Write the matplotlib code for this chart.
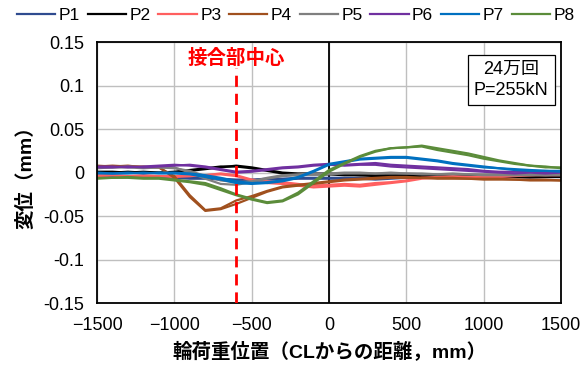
import matplotlib
matplotlib.use("Agg")
import matplotlib.pyplot as plt

plt.rcParams['font.family'] = ['Liberation Sans', 'Noto Sans CJK JP', 'DejaVu Sans']

# wheel load position (mm from CL), every 100 mm
pos = list(range(-1500, 1501, 100))

# displacement (mm), two passes per gauge
p1_a = [-0.005, -0.005, -0.004, -0.005, -0.005, -0.005, -0.006, -0.006, -0.007, -0.008, -0.008,
        -0.007, -0.007, -0.006, -0.006, -0.006, -0.006, -0.006, -0.007, -0.006, -0.005,
        -0.005, -0.005, -0.004, -0.004, -0.004, -0.004, -0.005, -0.005, -0.005, -0.005]
p1_b = [-0.006, -0.005, -0.005, -0.006, -0.005, -0.006, -0.007, -0.007, -0.008, -0.009, -0.009,
        -0.008, -0.008, -0.007, -0.007, -0.007, -0.007, -0.007, -0.008, -0.007, -0.006,
        -0.006, -0.005, -0.005, -0.005, -0.004, -0.005, -0.005, -0.006, -0.005, -0.005]
p2_a = [0.001, 0.001, 0.000, 0.001, 0.000, 0.000, 0.002, 0.004, 0.006, 0.008, 0.006,
        0.003, 0.000, -0.001, -0.001, -0.001, -0.002, -0.003, -0.003, -0.003, -0.003,
        -0.003, -0.004, -0.004, -0.004, -0.004, -0.004, -0.004, -0.005, -0.004, -0.004]
p2_b = [0.000, 0.000, 0.001, 0.000, 0.000, 0.001, 0.003, 0.005, 0.007, 0.007, 0.005,
        0.002, -0.001, -0.002, -0.002, -0.002, -0.003, -0.003, -0.004, -0.004, -0.004,
        -0.004, -0.004, -0.005, -0.005, -0.005, -0.004, -0.005, -0.005, -0.005, -0.005]
p3_a = [-0.003, -0.003, -0.004, -0.003, -0.004, -0.004, -0.004, -0.003, -0.001, -0.003, -0.008,
        -0.010, -0.011, -0.013, -0.015, -0.014, -0.013, -0.014, -0.012, -0.011, -0.009,
        -0.006, -0.005, -0.004, -0.005, -0.005, -0.004, -0.003, -0.003, -0.002, -0.002]
p3_b = [-0.004, -0.003, -0.004, -0.004, -0.004, -0.005, -0.004, -0.003, -0.002, -0.004, -0.009,
        -0.012, -0.013, -0.015, -0.017, -0.016, -0.015, -0.016, -0.014, -0.012, -0.010,
        -0.007, -0.006, -0.005, -0.005, -0.006, -0.005, -0.004, -0.003, -0.003, -0.003]
p4_a = [0.007, 0.008, 0.007, 0.007, 0.006, -0.006, -0.028, -0.044, -0.042, -0.036, -0.029,
        -0.022, -0.017, -0.015, -0.013, -0.011, -0.009, -0.008, -0.007, -0.006, -0.006,
        -0.006, -0.007, -0.007, -0.007, -0.008, -0.008, -0.008, -0.009, -0.009, -0.009]
p4_b = [0.008, 0.007, 0.008, 0.006, 0.006, -0.004, -0.026, -0.043, -0.041, -0.032, -0.027,
        -0.021, -0.016, -0.014, -0.012, -0.010, -0.008, -0.007, -0.006, -0.005, -0.005,
        -0.006, -0.006, -0.006, -0.007, -0.007, -0.007, -0.008, -0.008, -0.008, -0.009]
p5_a = [0.006, 0.006, 0.007, 0.006, 0.006, 0.006, 0.000, -0.007, -0.013, -0.014, -0.011,
        -0.007, -0.004, -0.003, -0.002, -0.002, -0.001, -0.001, -0.001, -0.001, -0.001,
        -0.002, -0.002, -0.002, -0.002, -0.003, -0.003, -0.003, -0.003, -0.003, -0.003]
p5_b = [0.005, 0.006, 0.006, 0.005, 0.006, 0.005, 0.002, -0.004, -0.009, -0.011, -0.010,
        -0.006, -0.003, -0.002, -0.001, -0.001, 0.000, 0.000, -0.001, 0.000, -0.001,
        -0.001, -0.002, -0.001, -0.002, -0.002, -0.002, -0.003, -0.002, -0.003, -0.002]
p6_a = [0.006, 0.006, 0.007, 0.006, 0.007, 0.008, 0.009, 0.007, 0.004, 0.001, 0.002,
        0.004, 0.006, 0.007, 0.009, 0.010, 0.009, 0.010, 0.011, 0.009, 0.008,
        0.007, 0.006, 0.005, 0.004, 0.002, 0.001, 0.001, 0.001, 0.000, 0.001]
p6_b = [0.007, 0.007, 0.006, 0.007, 0.008, 0.009, 0.008, 0.006, 0.003, 0.000, 0.001,
        0.003, 0.005, 0.006, 0.008, 0.009, 0.008, 0.009, 0.009, 0.007, 0.006,
        0.005, 0.004, 0.003, 0.002, 0.001, 0.000, -0.001, 0.000, -0.001, 0.000]
p7_a = [-0.001, -0.001, 0.000, -0.001, 0.000, 0.000, -0.001, -0.003, -0.006, -0.010, -0.012,
        -0.011, -0.009, -0.005, 0.002, 0.010, 0.013, 0.016, 0.017, 0.018, 0.018,
        0.016, 0.014, 0.011, 0.009, 0.007, 0.005, 0.004, 0.003, 0.002, 0.001]
p7_b = [0.000, -0.001, -0.001, 0.000, -0.001, -0.001, -0.002, -0.005, -0.008, -0.012, -0.013,
        -0.012, -0.010, -0.006, 0.001, 0.009, 0.012, 0.015, 0.016, 0.017, 0.017,
        0.015, 0.013, 0.010, 0.008, 0.006, 0.005, 0.003, 0.002, 0.002, 0.002]
p8_a = [-0.006, -0.006, -0.005, -0.006, -0.006, -0.008, -0.010, -0.012, -0.018, -0.025, -0.030,
        -0.034, -0.032, -0.023, -0.010, 0.003, 0.011, 0.019, 0.025, 0.028, 0.029,
        0.030, 0.026, 0.023, 0.020, 0.016, 0.013, 0.010, 0.008, 0.006, 0.006]
p8_b = [-0.007, -0.006, -0.006, -0.007, -0.007, -0.009, -0.011, -0.014, -0.020, -0.026, -0.031,
        -0.035, -0.033, -0.025, -0.012, 0.001, 0.010, 0.018, 0.024, 0.028, 0.029,
        0.031, 0.028, 0.025, 0.022, 0.018, 0.014, 0.011, 0.008, 0.007, 0.005]

names = ['P1', 'P2', 'P3', 'P4', 'P5', 'P6', 'P7', 'P8']
colors = ['#2F4B8F', '#000000', '#FF5F5F', '#A0501E', '#7F7F7F', '#7030A0', '#0070C0', '#5B8C3A']
series = [(p1_a, p1_b), (p2_a, p2_b), (p3_a, p3_b), (p4_a, p4_b),
          (p5_a, p5_b), (p6_a, p6_b), (p7_a, p7_b), (p8_a, p8_b)]

joint_x = -600

fig = plt.figure(figsize=(5.88, 3.72), dpi=100)
ax = fig.add_axes([0.165, 0.185, 0.789, 0.702])

for name, c, (a, b) in zip(names, colors, series):
    ax.plot(pos, a, color=c, lw=1.6, label=name)
    ax.plot(pos, b, color=c, lw=1.6)

ax.axvline(0, color='black', lw=1.3, zorder=1)
ax.plot([joint_x, joint_x], [-0.15, 0.12], color='red', lw=2, dashes=(4, 2.5), zorder=5)
ax.text(joint_x, 0.131, '接合部中心', color='red', fontsize=14, fontweight='bold',
        ha='center', va='center')

ax.text(0.893, 0.855, '24万回\nP=255kN', transform=ax.transAxes, fontsize=13,
        ha='center', va='center', linespacing=1.25,
        bbox=dict(boxstyle='square,pad=0.35', fc='white', ec='black', lw=0.9))

ax.set_xlim(-1500, 1500)
ax.set_ylim(-0.15, 0.15)
ax.set_xticks([-1500, -1000, -500, 0, 500, 1000, 1500])
ax.set_yticks([-0.15, -0.1, -0.05, 0, 0.05, 0.1, 0.15])
ax.set_yticklabels(['-0.15', '-0.1', '-0.05', '0', '0.05', '0.1', '0.15'])
ax.tick_params(labelsize=13, length=0)
ax.tick_params(axis='x', pad=10)
ax.tick_params(axis='y', pad=9)
ax.grid(True, color='#BFBFBF', lw=1)
ax.set_axisbelow(True)
for s in ax.spines.values():
    s.set_linewidth(1.3)
    s.set_color('black')

ax.set_xlabel('輪荷重位置（CLからの距離，mm）', fontsize=14, fontweight='bold', labelpad=5)
ax.set_ylabel('変位（mm）', fontsize=14, fontweight='bold', labelpad=6)

fig.legend(loc='upper center', bbox_to_anchor=(0.503, 0.998), ncol=8, frameon=False,
           fontsize=12.5, handlelength=2.2, handletextpad=0.2, columnspacing=0.45,
           borderaxespad=0.2, borderpad=0.2)

fig.savefig('out.png', dpi=100)
